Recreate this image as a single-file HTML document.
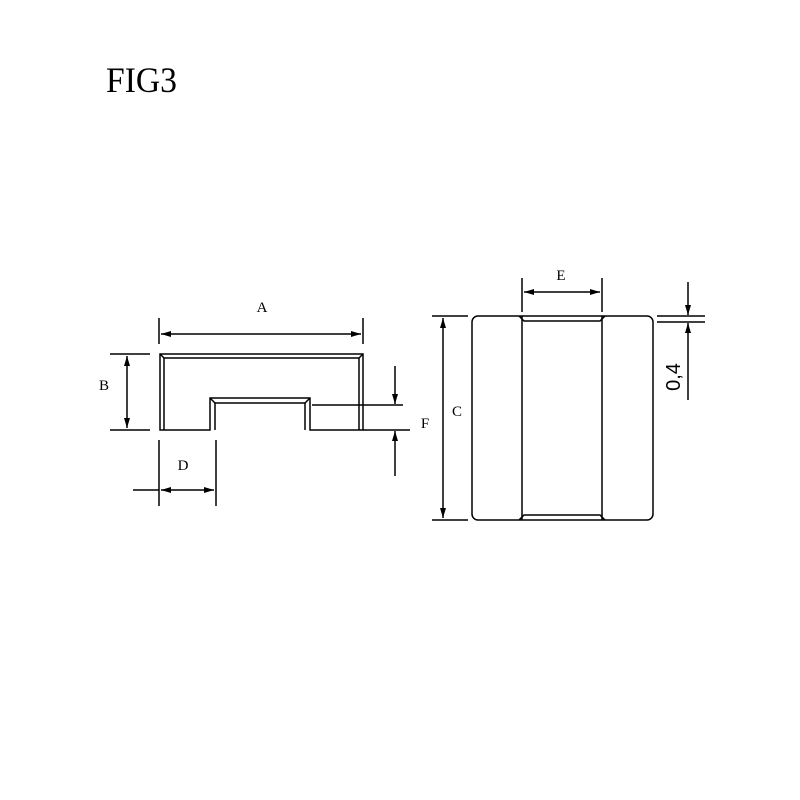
<!DOCTYPE html>
<html><head><meta charset="utf-8"><style>
html,body{margin:0;padding:0;background:#fff;width:800px;height:800px;overflow:hidden}
svg{display:block}
</style></head><body>
<svg width="800" height="800" viewBox="0 0 800 800" xmlns="http://www.w3.org/2000/svg">
<defs>
<marker id="ar" viewBox="0 0 10 6" refX="10" refY="3" markerWidth="10" markerHeight="6" orient="auto-start-reverse" markerUnits="userSpaceOnUse">
<path d="M0,0 L10,3 L0,6 z" fill="#000"/>
</marker>
</defs>
<text x="106" y="92" font-family="Liberation Serif, serif" font-size="36" fill="#000" textLength="71" lengthAdjust="spacingAndGlyphs">FIG3</text>
<g stroke="#000" stroke-width="1.5" fill="none">
<path d="M160,430 L160,354 L363,354 L363,430 L310,430 L310,398 L210,398 L210,430 Z"/>
<path d="M164,430 L164,358 L359,358 L359,430 M305,430 L305,403 L215,403 L215,430"/>
<path d="M160,354 L164,358 M363,354 L359,358 M210,398 L215,403 M310,398 L305,403"/>
<line x1="159" y1="318" x2="159" y2="344"/>
<line x1="363" y1="318" x2="363" y2="344"/>
<line x1="161" y1="334" x2="361" y2="334" marker-start="url(#ar)" marker-end="url(#ar)"/>
<line x1="110" y1="354" x2="150" y2="354"/>
<line x1="110" y1="430" x2="150" y2="430"/>
<line x1="127" y1="356" x2="127" y2="428" marker-start="url(#ar)" marker-end="url(#ar)"/>
<line x1="159" y1="440" x2="159" y2="506"/>
<line x1="216" y1="440" x2="216" y2="506"/>
<line x1="133" y1="490" x2="159" y2="490"/>
<line x1="161" y1="490" x2="214" y2="490" marker-start="url(#ar)" marker-end="url(#ar)"/>
<line x1="312" y1="405" x2="403" y2="405"/>
<line x1="363" y1="430" x2="410" y2="430"/>
<line x1="395" y1="366" x2="395" y2="404" marker-end="url(#ar)"/>
<line x1="395" y1="476" x2="395" y2="431" marker-end="url(#ar)"/>
<rect x="472" y="316" width="181" height="204" rx="6"/>
<line x1="522" y1="316" x2="522" y2="520"/>
<line x1="602" y1="316" x2="602" y2="520"/>
<path d="M519,316 L524,321 L600,321 L605,316 M519,520 L524,515 L600,515 L605,520"/>
<line x1="522" y1="278" x2="522" y2="312"/>
<line x1="602" y1="278" x2="602" y2="312"/>
<line x1="524" y1="292" x2="600" y2="292" marker-start="url(#ar)" marker-end="url(#ar)"/>
<line x1="432" y1="316" x2="468" y2="316"/>
<line x1="432" y1="520" x2="468" y2="520"/>
<line x1="443" y1="318" x2="443" y2="518" marker-start="url(#ar)" marker-end="url(#ar)"/>
<line x1="657" y1="316" x2="705" y2="316"/>
<line x1="657" y1="322" x2="705" y2="322"/>
<line x1="688" y1="282" x2="688" y2="315" marker-end="url(#ar)"/>
<line x1="688" y1="400" x2="688" y2="323" marker-end="url(#ar)"/>
</g>
<g font-family="Liberation Serif, serif" font-size="15" fill="#000" text-anchor="middle">
<text x="262" y="312">A</text>
<text x="104" y="390">B</text>
<text x="183" y="470">D</text>
<text x="425" y="428">F</text>
<text x="457" y="416">C</text>
<text x="561" y="280">E</text>
</g>
<text x="0" y="0" font-family="Liberation Sans, sans-serif" font-size="20" fill="#000" text-anchor="middle" transform="translate(680,377) rotate(-90)">0,4</text>
</svg>
</body></html>
